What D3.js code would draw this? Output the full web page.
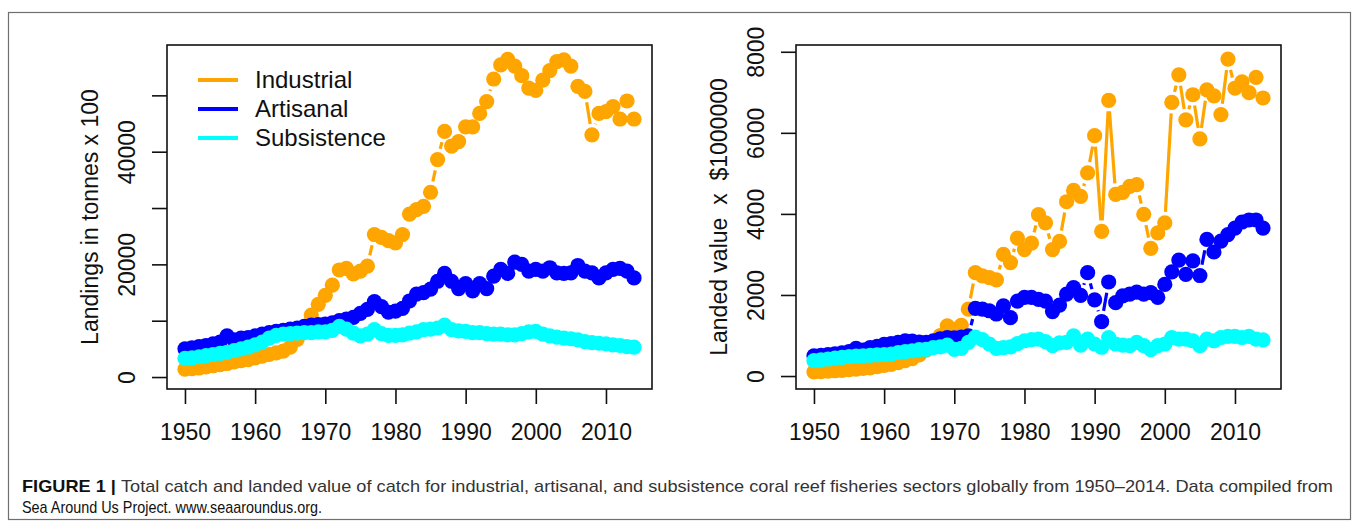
<!DOCTYPE html>
<html>
<head>
<meta charset="utf-8">
<script src="https://cdn.jsdelivr.net/npm/d3@7"></script>
<style>
  body { margin: 0; background: #fff; }
  text { font-family: "Liberation Sans", Arial, sans-serif; fill: #111; }
  .caption text, text.caption { font-family: "Liberation Sans Narrow", "Arial Narrow", "Liberation Sans", sans-serif; }
</style>
</head>
<body>
<div id="figure"></div>
<script>
// Years on the x axis
const years = d3.range(1950, 2015);

// Landings in tonnes x 100 (left panel), one value per year 1950-2014
const landIndustrial = [
  1400, 1500, 1600, 1800, 2000, 2200, 2400, 2700, 2900, 3100,
  3400, 3700, 4000, 4300, 4600, 5300, 6700, 8800, 11000, 12900,
  14500, 16300, 19000, 19300, 18300, 18800, 19700, 25300, 24800, 24200,
  23800, 25300, 28900, 29700, 30300, 32800, 38600, 43600, 41000, 41800,
  44400, 44400, 46800, 48900, 52900, 55400, 56400, 55200, 53500, 51300,
  50900, 52700, 54400, 56000, 56300, 55200, 51600, 50700, 43000, 46800,
  47100, 48000, 45800, 49000, 45800];
const landArtisanal = [
  5000, 5200, 5400, 5600, 5900, 6200, 7300, 6600, 6900, 7000,
  7300, 7600, 7900, 8100, 8300, 8500, 8700, 9000, 9200, 9300,
  9400, 9600, 10000, 10300, 10600, 11300, 12000, 13400, 12500, 11500,
  11700, 12200, 13500, 14700, 15000, 15600, 17000, 18400, 17000, 15700,
  16600, 15300, 16600, 15700, 17900, 19100, 18400, 20400, 20000, 18800,
  19100, 18800, 19400, 18500, 18400, 18500, 19800, 18800, 18500, 17600,
  18500, 19100, 19300, 18800, 17600];
const landSubsistence = [
  3300, 3400, 3600, 3800, 4000, 4200, 4400, 4700, 5000, 5300,
  5700, 6200, 6900, 7400, 7600, 7700, 7800, 7900, 7900, 8000,
  8000, 8300, 9000, 8500, 7800, 7300, 7600, 8400, 7700, 7400,
  7400, 7500, 7800, 8000, 8400, 8500, 8700, 9200, 8400, 8200,
  8100, 7900, 7900, 7700, 7600, 7600, 7500, 7500, 7700, 8000,
  8100, 7600, 7300, 7100, 6900, 6800, 6600, 6300, 6100, 6000,
  5900, 5700, 5600, 5400, 5300];

// Landed value x $1000000 (right panel)
const valueIndustrial = [
  100, 110, 120, 130, 140, 160, 170, 190, 200, 230,
  260, 290, 330, 380, 430, 520, 640, 800, 1000, 1240,
  1150, 1250, 1650, 2550, 2470, 2430, 2370, 3000, 2800, 3400,
  3120, 3280, 3980, 3780, 3120, 3320, 4300, 4580, 4430, 5010,
  5930, 3570, 6800, 4480, 4530, 4680, 4720, 3990, 3150, 3530,
  3780, 6750, 7430, 6320, 6940, 5850, 7060, 6910, 6450, 7820,
  7100, 7260, 6990, 7370, 6860];
const valueArtisanal = [
  500, 510, 530, 550, 570, 600, 680, 640, 700, 730,
  780, 800, 830, 870, 860, 840, 830, 870, 920, 950,
  940, 960, 990, 1670, 1650, 1610, 1530, 1730, 1440, 1850,
  1940, 1940, 1890, 1850, 1590, 1750, 2020, 2180, 1990, 2550,
  1880, 1340, 2320, 1810, 1980, 2020, 2070, 2020, 2060, 1940,
  2260, 2570, 2860, 2510, 2840, 2480, 3370, 3060, 3330, 3490,
  3650, 3800, 3850, 3850, 3650];
const valueSubsistence = [
  380, 400, 420, 440, 460, 480, 490, 500, 510, 520,
  530, 540, 580, 600, 620, 650, 660, 700, 720, 760,
  660, 680, 830, 960, 900, 790, 680, 700, 720, 800,
  870, 900, 910, 850, 750, 820, 830, 990, 760, 910,
  790, 710, 950, 790, 760, 750, 830, 750, 650, 750,
  790, 950, 910, 910, 870, 750, 910, 870, 950, 980,
  980, 950, 980, 910, 890];

const seriesNames = ["Industrial", "Artisanal", "Subsistence"];
const seriesColors = ["orange", "blue", "cyan"];

// Tick values and labels
const yearTicks = [1950, 1960, 1970, 1980, 1990, 2000, 2010];
const landTicks = [0, 10000, 20000, 30000, 40000, 50000];
const landTickLabels = ["0", "", "20000", "", "40000", ""];
const valueTicks = [0, 2000, 4000, 6000, 8000];
const valueTickLabels = ["0", "2000", "4000", "6000", "8000"];

const width = 1359;
const height = 529;
const pointRadius = 7.6;
const lineGap = 11;   // type "b" style gap around each point

const svg = d3.select("#figure")
  .append("svg")
  .attr("width", width)
  .attr("height", height);

// figure frame
svg.append("rect")
  .attr("x", 8.5).attr("y", 12.5)
  .attr("width", 1342).attr("height", 507)
  .attr("fill", "none")
  .attr("stroke", "#6f6f6f")
  .attr("stroke-width", 1.2);

// Draws one panel: box, axes, and the three series
function drawPanel(p) {
  const xScale = d3.scaleLinear()
    .domain([1947.44, 2016.56])
    .range([p.left, p.right]);

  const yScale = d3.scaleLinear()
    .domain(p.yDomain)
    .range([p.bottom, p.top]);

  const g = svg.append("g");

  // series, industrial first so the others sit on top
  p.series.forEach((vals, s) => {
    const pts = years.map((yr, i) => [xScale(yr), yScale(vals[i])]);

    const segs = d3.pairs(pts).map(([a, b]) => {
      const dx = b[0] - a[0], dy = b[1] - a[1];
      const d = Math.hypot(dx, dy);
      if (d <= 2 * lineGap) return null;
      const ux = dx / d, uy = dy / d;
      return [a[0] + ux * lineGap, a[1] + uy * lineGap, b[0] - ux * lineGap, b[1] - uy * lineGap];
    }).filter(d => d);

    g.append("g").selectAll("line")
      .data(segs)
      .enter()
      .append("line")
      .attr("x1", d => d[0]).attr("y1", d => d[1])
      .attr("x2", d => d[2]).attr("y2", d => d[3])
      .attr("stroke", seriesColors[s])
      .attr("stroke-width", 3.2);

    g.append("g").selectAll("circle")
      .data(pts)
      .enter()
      .append("circle")
      .attr("cx", d => d[0])
      .attr("cy", d => d[1])
      .attr("r", pointRadius)
      .attr("fill", seriesColors[s]);
  });

  // box
  svg.append("rect")
    .attr("x", p.left).attr("y", p.top)
    .attr("width", p.right - p.left).attr("height", p.bottom - p.top)
    .attr("fill", "none")
    .attr("stroke", "#111")
    .attr("stroke-width", 1.6);

  // bottom axis
  const xAxis = svg.append("g")
    .attr("transform", `translate(0,${p.bottom})`)
    .call(d3.axisBottom(xScale).tickValues(yearTicks).tickFormat(d3.format("d"))
      .tickSize(15).tickSizeOuter(0).tickPadding(20));
  xAxis.select(".domain").remove();
  xAxis.selectAll("line").attr("stroke", "#111").attr("stroke-width", 1.6);
  xAxis.selectAll("text")
    .attr("font-size", "23px")
    .attr("font-family", "Liberation Sans, Arial, sans-serif")
    .attr("fill", "#111");

  // left axis with rotated labels
  const yAxis = svg.append("g")
    .attr("transform", `translate(${p.left},0)`)
    .call(d3.axisLeft(yScale).tickValues(p.yTicks)
      .tickFormat((d, i) => p.yLabels[i])
      .tickSize(15).tickSizeOuter(0));
  yAxis.select(".domain").remove();
  yAxis.selectAll("line").attr("stroke", "#111").attr("stroke-width", 1.6);
  yAxis.selectAll("text")
    .attr("transform", "rotate(-90)")
    .attr("x", 0)
    .attr("y", -32)
    .attr("dy", 0)
    .attr("text-anchor", "middle")
    .attr("font-size", "23px")
    .attr("font-family", "Liberation Sans, Arial, sans-serif")
    .attr("fill", "#111");

  // axis title
  svg.append("text")
    .attr("transform", `translate(${p.left - 69},${(p.top + p.bottom) / 2}) rotate(-90)`)
    .attr("text-anchor", "middle")
    .attr("font-size", "23px")
    .style("white-space", "pre")
    .text(p.title);

  return { xScale, yScale };
}

drawPanel({
  left: 167, right: 652, top: 45, bottom: 389,
  yDomain: [-2124, 58938],
  yTicks: landTicks, yLabels: landTickLabels,
  title: "Landings in tonnes x 100",
  series: [landIndustrial, landArtisanal, landSubsistence]
});

drawPanel({
  left: 796, right: 1281, top: 45, bottom: 389,
  yDomain: [-320, 8167],
  yTicks: valueTicks, yLabels: valueTickLabels,
  title: "Landed value  x  $1000000",
  series: [valueIndustrial, valueArtisanal, valueSubsistence]
});

// legend in the left panel
const legend = svg.append("g")
  .attr("transform", "translate(198,80)");

legend.selectAll("line")
  .data(seriesNames)
  .enter()
  .append("line")
  .attr("x1", 0).attr("x2", 40)
  .attr("y1", (d, i) => i * 29).attr("y2", (d, i) => i * 29)
  .attr("stroke", (d, i) => seriesColors[i])
  .attr("stroke-width", 4);

legend.selectAll("text")
  .data(seriesNames)
  .enter()
  .append("text")
  .attr("x", 57)
  .attr("y", (d, i) => i * 29)
  .attr("dy", "0.35em")
  .attr("font-size", "24px")
  .text(d => d);

// caption
const cap1 = svg.append("text")
  .attr("class", "caption")
  .attr("x", 22).attr("y", 492)
  .attr("font-size", "17px")
  .attr("textLength", 1311)
  .attr("lengthAdjust", "spacingAndGlyphs");
cap1.append("tspan").attr("font-weight", "bold").text("FIGURE 1 | ");
cap1.append("tspan").attr("fill", "#333")
  .text("Total catch and landed value of catch for industrial, artisanal, and subsistence coral reef fisheries sectors globally from 1950\u20132014. Data compiled from");

svg.append("text")
  .attr("class", "caption")
  .attr("x", 22).attr("y", 513)
  .attr("font-size", "17px")
  .attr("fill", "#333")
  .attr("textLength", 300)
  .attr("lengthAdjust", "spacingAndGlyphs")
  .text("Sea Around Us Project. www.seaaroundus.org.");
</script>
</body>
</html>
